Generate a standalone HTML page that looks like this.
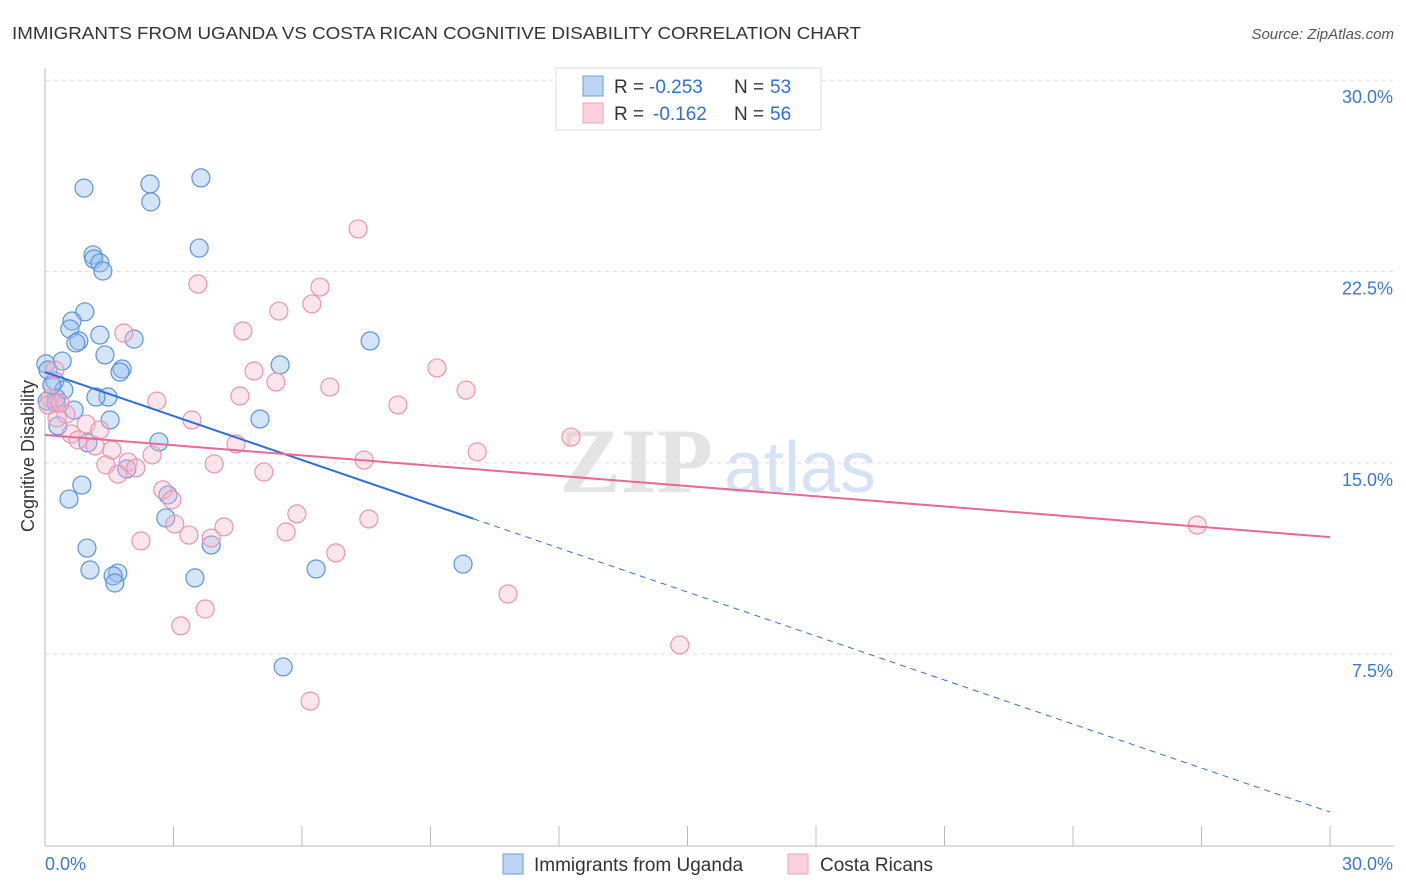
<!DOCTYPE html>
<html><head><meta charset="utf-8"><style>
body{margin:0;background:#fff;font-family:"Liberation Sans",sans-serif;}
svg{display:block}
</style></head><body>
<svg id="chart" width="1406" height="892" xmlns="http://www.w3.org/2000/svg" font-family="Liberation Sans, sans-serif">
<text x="12" y="39" font-size="17.5" fill="#333" textLength="849" lengthAdjust="spacingAndGlyphs">IMMIGRANTS FROM UGANDA VS COSTA RICAN COGNITIVE DISABILITY CORRELATION CHART</text>
<text x="1394" y="39" font-size="15" fill="#555" text-anchor="end" font-style="italic">Source: ZipAtlas.com</text>
<g>
<text x="636" y="492" font-size="92" fill="#e4e4e4" text-anchor="middle" font-family="Liberation Serif, serif" font-weight="bold">ZIP</text>
<text x="800" y="492" font-size="72" fill="#d6e3f4" text-anchor="middle">atlas</text>
</g>
<g id="grid"></g>
<g id="axes"></g>
<g id="pts"></g>
<g id="lines"></g>
<g font-size="19">
<rect x="556" y="68" width="265" height="62" fill="#fff" stroke="#ddd"/>
<rect x="583" y="76" width="20" height="20" fill="#bcd4f4" stroke="#6d9bdc"/>
<rect x="583" y="103" width="20" height="20" fill="#fbd0dc" stroke="#eba3b8"/>
<text x="614" y="93" fill="#333">R =</text>
<text x="649" y="93" fill="#2f6fd6">-0.253</text>
<text x="734" y="93" fill="#333">N =</text>
<text x="770" y="93" fill="#2f6fd6">53</text>
<text x="614" y="120" fill="#333">R =</text>
<text x="653" y="120" fill="#2f6fd6">-0.162</text>
<text x="734" y="120" fill="#333">N =</text>
<text x="770" y="120" fill="#2f6fd6">56</text>
</g>
<g>
<rect x="503" y="854" width="20" height="20" fill="#bcd4f4" stroke="#6d9bdc"/>
<text x="534" y="871" font-size="19" fill="#333">Immigrants from Uganda</text>
<rect x="788" y="854" width="20" height="20" fill="#fbd0dc" stroke="#eba3b8"/>
<text x="820" y="871" font-size="19" fill="#333">Costa Ricans</text>
</g>
<text transform="translate(34,456) rotate(-90)" font-size="18" fill="#333" text-anchor="middle">Cognitive Disability</text>
</svg>
<script>
const xTicks=[0,3,6,9,12,15,18,21,24,27,30];
const yTicks=[7.5,15,22.5,30];
const yTickLabels=["7.5%","15.0%","22.5%","30.0%"];
const blueX=[0.91,2.45,3.64,2.47,3.60,1.12,1.14,1.28,1.35,0.93,0.63,0.58,0.79,0.72,1.28,2.08,1.40,0.40,0.02,1.80,1.75,0.23,0.44,0.26,0.05,1.47,1.19,0.68,1.52,0.30,2.66,1.00,1.91,0.86,0.56,2.87,2.82,0.98,3.88,1.05,1.70,1.59,1.63,3.50,6.33,5.49,7.59,5.02,9.76,5.56,0.26,0.07,0.16];
const blueY=[25.77,25.93,26.17,25.23,23.42,23.15,22.99,22.84,22.52,20.92,20.56,20.25,19.78,19.70,20.01,19.85,19.23,18.99,18.88,18.68,18.56,18.21,17.86,17.54,17.42,17.58,17.58,17.07,16.68,16.45,15.82,15.78,14.76,14.13,13.58,13.74,12.84,11.66,11.78,10.80,10.68,10.57,10.29,10.49,10.84,18.84,19.78,16.72,11.03,7.00,17.35,18.64,18.05];
const pinkX=[7.31,3.57,6.42,6.23,5.46,4.62,1.84,9.15,4.88,5.39,6.65,9.83,4.55,2.61,8.24,0.23,0.12,0.28,0.49,3.43,0.96,1.28,0.61,0.77,1.17,12.28,4.46,1.56,10.09,2.50,1.94,7.45,3.95,1.42,2.12,1.70,5.11,2.75,2.96,5.88,7.56,3.03,4.18,3.36,5.63,3.88,2.24,6.79,10.81,3.74,3.17,14.82,6.19,26.90,0.07,0.35];
const pinkY=[24.17,22.01,21.89,21.23,20.95,20.17,20.09,18.72,18.60,18.17,17.97,17.85,17.62,17.42,17.27,18.64,17.54,16.76,16.91,16.68,16.52,16.29,16.13,15.90,15.66,16.01,15.74,15.50,15.43,15.31,15.03,15.11,14.96,14.92,14.80,14.56,14.64,13.94,13.55,13.00,12.80,12.60,12.49,12.17,12.29,12.05,11.94,11.47,9.86,9.27,8.61,7.86,5.66,12.56,17.27,17.35];
const blueTrend=[18.56,1.31];
const pinkTrend=[16.09,12.09];
const blueSolidEnd=10.0;

const NS="http://www.w3.org/2000/svg";
const X=v=>45+v/30*1285;
const Y=v=>845.5-v/30*765.3;
function mk(tag,attrs,parent){const e=document.createElementNS(NS,tag);for(const k in attrs)e.setAttribute(k,attrs[k]);parent.appendChild(e);return e;}
const grid=document.getElementById('grid'),axes=document.getElementById('axes'),pts=document.getElementById('pts'),lines=document.getElementById('lines');
yTicks.forEach((t,i)=>{
 const g=mk('line',{x1:45,x2:1394,y1:Y(t),y2:Y(t),stroke:'#ddd','stroke-dasharray':'4,4'},grid);
 
 
 const l=mk('text',{x:1393,y:Y(t)+23,'font-size':18,fill:'#3a78d4','text-anchor':'end'},axes);
 l.textContent=yTickLabels[i];
 
 
});
const ax=mk('line',{x1:45,x2:45,y1:68,y2:846,stroke:'#bbb'},axes);


const bx=mk('line',{x1:45,x2:1394,y1:846,y2:846,stroke:'#bbb'},axes);


xTicks.forEach(t=>{
 const tk=mk('line',{x1:X(t),x2:X(t),y1:826,y2:846,stroke:'#bbb'},axes);
 
 
});
const xl0=mk('text',{x:45,y:870,'font-size':18,fill:'#3a78d4'},axes);xl0.textContent='0.0%';


const xl1=mk('text',{x:1393,y:870,'font-size':18,fill:'#3a78d4','text-anchor':'end'},axes);xl1.textContent='30.0%';


blueX.forEach((v,i)=>{
 const c=mk('circle',{cx:X(v),cy:Y(blueY[i]),r:9,fill:'rgba(150,190,240,0.4)',stroke:'#5d93dd','stroke-width':1.2},pts);
 
 
});
pinkX.forEach((v,i)=>{
 const c=mk('circle',{cx:X(v),cy:Y(pinkY[i]),r:9,fill:'rgba(248,180,200,0.35)',stroke:'#eb94ad','stroke-width':1.2},pts);
 
 
});
const bAt=x=>blueTrend[0]+(blueTrend[1]-blueTrend[0])*x/30;
const b1=mk('line',{x1:X(0),y1:Y(bAt(0)),x2:X(blueSolidEnd),y2:Y(bAt(blueSolidEnd)),stroke:'#2f6fd6','stroke-width':2},lines);


const b2=mk('line',{x1:X(blueSolidEnd),y1:Y(bAt(blueSolidEnd)),x2:X(30),y2:Y(bAt(30)),stroke:'#2f6fd6','stroke-width':1,'stroke-dasharray':'6,5'},lines);


const p1=mk('line',{x1:X(0),y1:Y(pinkTrend[0]),x2:X(30),y2:Y(pinkTrend[1]),stroke:'#e66a95','stroke-width':2},lines);


</script>
</body></html>
